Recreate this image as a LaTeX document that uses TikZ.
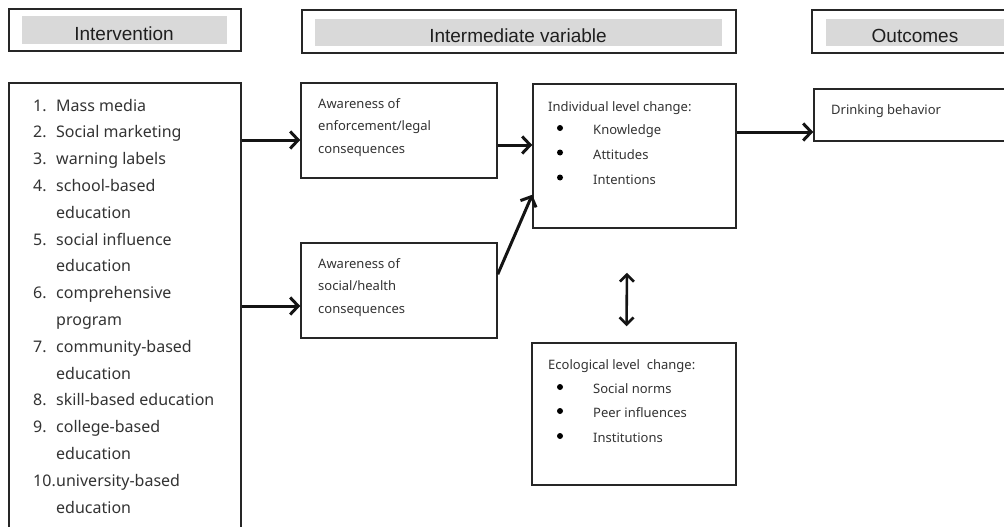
\documentclass[tikz,border=0pt]{standalone}
\usepackage{fontspec}
\setmainfont{Noto Sans}
\newfontfamily\headfont{Liberation Sans}
\usetikzlibrary{arrows.meta,calc}

\begin{document}
\begin{tikzpicture}[x=1pt,y=-1pt,
  frame/.style={draw=black!85, line width=1.5pt, inner sep=0pt, fill=white},
  band/.style={fill=black!15, inner sep=0pt},
  headtxt/.style={font=\headfont\fontsize{19}{21}\selectfont, anchor=base, inner sep=0pt, text=black!88},
  item/.style={font=\fontsize{16}{18}\selectfont, anchor=base west, inner sep=0pt, text=black!80},
  small/.style={font=\fontsize{13}{15}\selectfont, anchor=base west, inner sep=0pt, text=black!80},
  flow/.style={line width=3pt, draw=black!92, -{Straight Barb[length=8pt,width=17pt]}},
  twoway/.style={line width=2.6pt, draw=black!92, {Straight Barb[length=7pt,width=14pt]}-{Straight Barb[length=7pt,width=14pt]}},
  dot/.style={circle, fill=black, inner sep=0pt, minimum size=6pt}
]
\useasboundingbox (0,0) rectangle (1004,527);
\clip (0,0) rectangle (1004,527);

% column headers
\node[frame, minimum width=232pt, minimum height=42pt] (hInt) at (125,30) {};
\node[band, minimum width=205pt, minimum height=28pt] (bInt) at (124.5,30) {};
\node[headtxt] (tInt) at (124,41) {Intervention};

\node[frame, minimum width=434pt, minimum height=43pt] (hMid) at (519,31.5) {};
\node[band, minimum width=407pt, minimum height=27pt] (bMid) at (518.5,32.5) {};
\node[headtxt] (tMid) at (518,43) {Intermediate variable};

\node[frame, minimum width=208pt, minimum height=43pt] (hOut) at (916,31.5) {};
\node[band, minimum width=180pt, minimum height=27pt] (bOut) at (916,32.5) {};
\node[headtxt] (tOut) at (915,43) {Outcomes};

% boxes
\node[frame, minimum width=232pt, minimum height=477pt] (list) at (125,321.5) {};
\node[frame, minimum width=196pt, minimum height=95pt] (enf) at (399,130.5) {};
\node[frame, minimum width=196pt, minimum height=95pt] (soc) at (399,290.5) {};
\node[frame, minimum width=203pt, minimum height=144pt] (ind) at (634.5,156) {};
\node[frame, minimum width=204pt, minimum height=142pt] (eco) at (634,414) {};
\node[frame, minimum width=208pt, minimum height=52pt] (drink) at (918,115) {};

% intervention list
\foreach \r/\n in {1/1., 2/2., 3/3., 4/4., 6/5., 8/6., 10/7., 12/8., 13/9., 15/10.}
  \node[item] (num\r) at (33,{111+26.8*(\r-1)}) {\n};
\foreach \r/\t in {1/Mass media, 2/Social marketing, 3/warning labels, 4/school-based,
  5/education, 6/social influence, 7/education, 8/comprehensive, 9/program,
  10/community-based, 11/education, 12/skill-based education, 13/college-based,
  14/education, 15/university-based, 16/education}
  \node[item] (li\r) at (56,{111+26.8*(\r-1)}) {\t};

% awareness boxes
\node[small] (e1) at (318,108) {Awareness of};
\node[small] (e2) at (318,130.5) {enforcement/legal};
\node[small] (e3) at (318,153) {consequences};
\node[small] (s1) at (318,268) {Awareness of};
\node[small] (s2) at (318,290.5) {social/health};
\node[small] (s3) at (318,313) {consequences};

% individual level
\node[small] (i0) at (548,111) {Individual level change:};
\node[dot] (ib1) at (560,128) {};
\node[dot] (ib2) at (560,152.5) {};
\node[dot] (ib3) at (560,177.5) {};
\node[small] (i1) at (593,134) {Knowledge};
\node[small] (i2) at (593,159) {Attitudes};
\node[small] (i3) at (593,184) {Intentions};

% ecological level
\node[small] (c0) at (548,369) {Ecological level\ \ change:};
\node[dot] (cb1) at (560,387) {};
\node[dot] (cb2) at (560,411) {};
\node[dot] (cb3) at (560,436) {};
\node[small] (c1) at (593,393) {Social norms};
\node[small] (c2) at (593,417) {Peer influences};
\node[small] (c3) at (593,442) {Institutions};

% outcome
\node[small] (d1) at (831,114) {Drinking behavior};

% connectors
\coordinate (y1) at (0,140);
\coordinate (y2) at (0,306);
\coordinate (y3) at (0,145);
\coordinate (y4) at (0,132);
\draw[flow] (list.east |- y1) -- (enf.west |- y1);
\draw[flow] (list.east |- y2) -- (soc.west |- y2);
\draw[flow] (enf.east |- y3) -- (ind.west |- y3);
\draw[flow] ($(soc.north east)+(0,32)$) -- ($(ind.south west)+(0,-34)$);
\draw[flow] (ind.east |- y4) -- (drink.west |- y4);
\draw[twoway] ($(ind.south)+(-7.5,44)$) -- ($(eco.north)+(-7.5,-16)$);
\end{tikzpicture}
\end{document}
